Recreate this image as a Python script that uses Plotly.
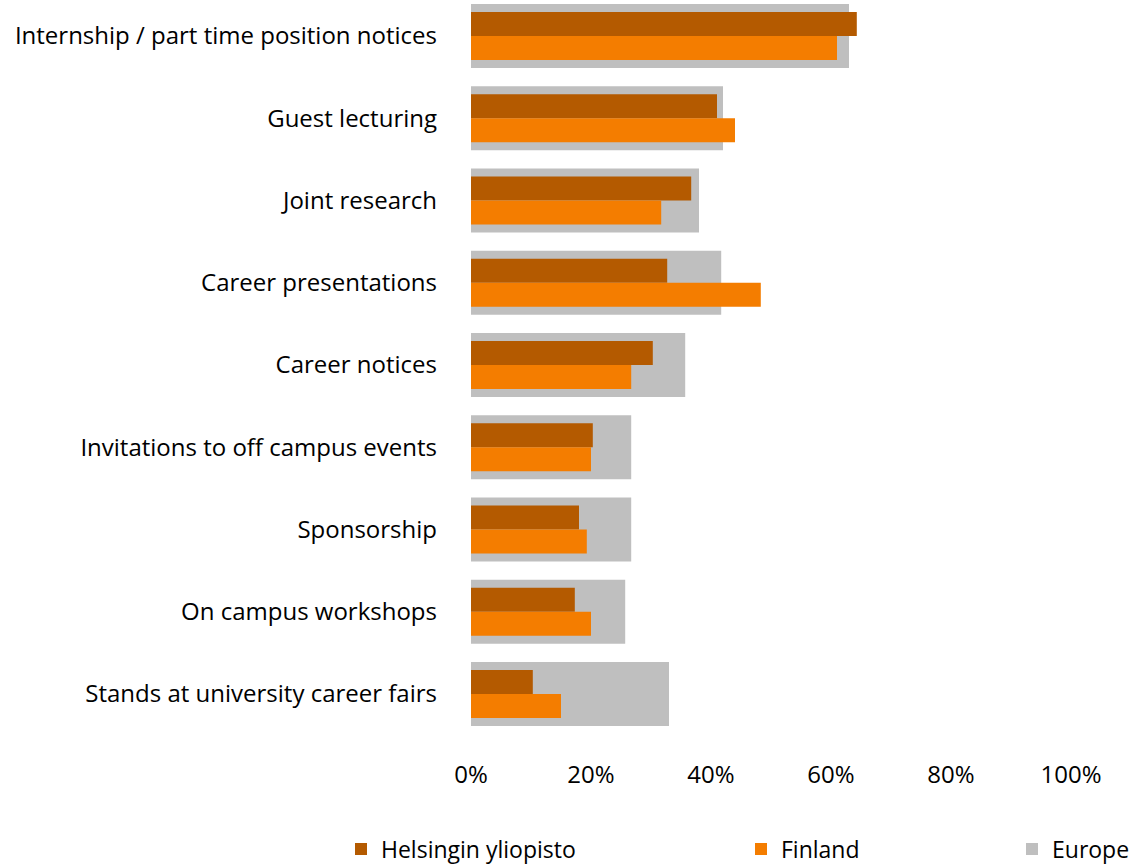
import plotly.graph_objects as go

categories = [
    "Internship / part time position notices",
    "Guest lecturing",
    "Joint research",
    "Career presentations",
    "Career notices",
    "Invitations to off campus events",
    "Sponsorship",
    "On campus workshops",
    "Stands at university career fairs",
]
helsinki = [0.643, 0.410, 0.367, 0.327, 0.303, 0.203, 0.180, 0.173, 0.103]
finland = [0.610, 0.440, 0.317, 0.483, 0.267, 0.200, 0.193, 0.200, 0.150]
europe = [0.630, 0.420, 0.380, 0.417, 0.357, 0.267, 0.267, 0.257, 0.330]
tick_vals = [0, 0.2, 0.4, 0.6, 0.8, 1.0]

FONT = "'Open Sans', Lato, sans-serif"
FS = 24
LFS = 23
C_HEL = "#B45A00"
C_FIN = "#F47D00"
C_EUR = "#BFBFBF"

W, H = 1134, 866

fig = go.Figure()
fig.add_trace(go.Bar(
    y=categories, x=europe, orientation="h", name="Europe",
    marker=dict(color=C_EUR, line=dict(width=0)),
    width=0.78, offset=-0.39, legend="legend3", hoverinfo="x+name",
))
fig.add_trace(go.Bar(
    y=categories, x=helsinki, orientation="h", name="Helsingin yliopisto",
    marker=dict(color=C_HEL, line=dict(width=0)),
    width=0.292, offset=-0.292, legend="legend", hoverinfo="x+name",
))
fig.add_trace(go.Bar(
    y=categories, x=finland, orientation="h", name="Finland",
    marker=dict(color=C_FIN, line=dict(width=0)),
    width=0.292, offset=0.0, legend="legend2", hoverinfo="x+name",
))

legend_common = dict(
    orientation="h", xref="container", yref="container",
    yanchor="middle", xanchor="left", bgcolor="rgba(0,0,0,0)",
    font=dict(family=FONT, size=LFS, color="#000000"), borderwidth=0,
)
ly = 1 - 849 / H

fig.update_layout(
    width=W, height=H,
    barmode="overlay",
    plot_bgcolor="white", paper_bgcolor="white",
    margin=dict(l=471, r=63, t=0, b=108),
    font=dict(family=FONT, size=FS, color="#000000"),
    showlegend=True,
    legend=dict(x=341 / W, y=ly, **legend_common),
    legend2=dict(x=741 / W, y=ly, **legend_common),
    legend3=dict(x=1012 / W, y=ly, entrywidth=100, **legend_common),
    xaxis=dict(
        range=[0, 1], tickvals=tick_vals, tickformat=".0%",
        showgrid=False, zeroline=False, showline=False, ticks="",
        tickfont=dict(family=FONT, size=FS, color="#000000"),
        ticklabelstandoff=0,
    ),
    yaxis=dict(
        type="category", categoryorder="array", categoryarray=categories,
        range=[8.778, -0.4377],
        showgrid=False, zeroline=False, showline=False, ticks="",
        tickfont=dict(family=FONT, size=FS, color="#000000"),
        ticklabelstandoff=33,
    ),
)

fig.write_html(
    "out.html",
    config={"displayModeBar": False},
    post_script="document.body.style.margin='0px';document.body.style.overflow='hidden';",
)
